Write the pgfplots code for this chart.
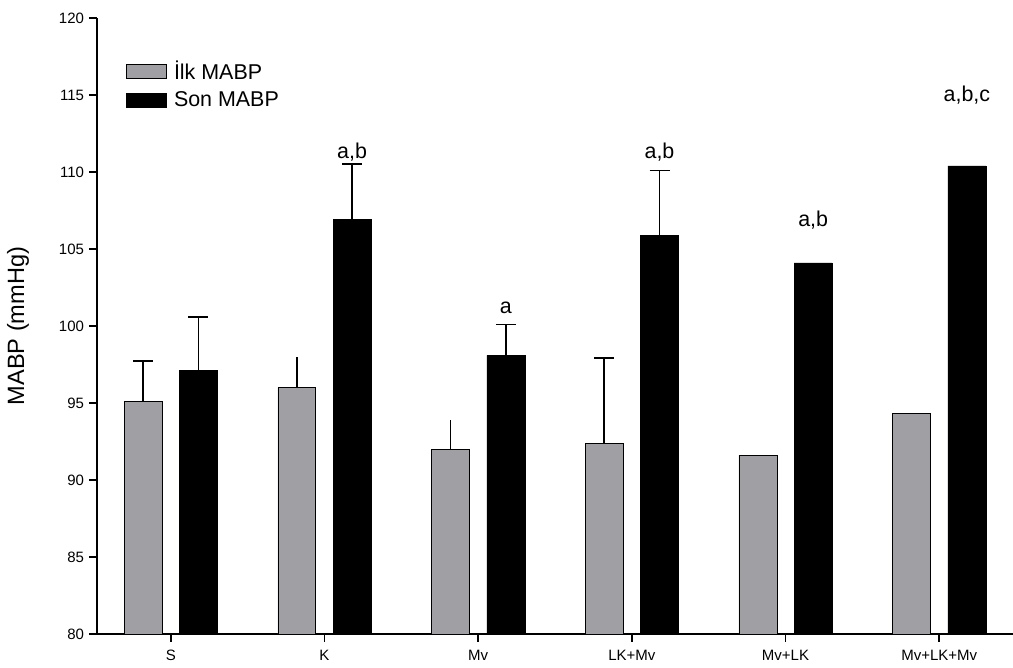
\documentclass[border=0pt]{standalone}
\usepackage{fontspec}
\setmainfont{Liberation Sans}
\usepackage{pgfplots}
\usepackage{pgfplotstable}
\pgfplotsset{compat=1.18}
\definecolor{barg}{RGB}{160,160,164}
\pgfplotsset{mylegend/.style={legend image code/.code={\draw[##1] (0pt,-5pt) rectangle (28pt,5pt);}}}

\pgfplotstableread{
x y
0 95.1
1 96.0
2 92.0
3 92.4
4 91.6
5 94.35
}\first
\pgfplotstableread{
x y
0 97.1
1 106.9
2 98.1
3 105.9
4 104.1
5 110.4
}\last

\begin{document}
\begin{tikzpicture}
\begin{axis}[
  scale only axis, width=641.2pt, height=431.2pt,
  xmin=-0.48, xmax=5.48, ymin=80, ymax=120,
  ytick={80,85,...,120},
  xtick={0,...,5}, xticklabels={S,K,Mv,LK+Mv,Mv+LK,Mv+LK+Mv},
  axis lines*=left,
  axis line style={-, line width=1.2pt},
  tick align=outside, major tick length=5.6pt,
  tick style={line width=1.2pt, black},
  /pgf/number format/assume math mode=true,
  ticklabel style={font=\fontsize{10.5}{12}\selectfont},
  xticklabel style={yshift=-2pt},
  ylabel={MABP (mmHg)},
  ylabel style={at={(axis description cs:-0.0862,0.5)}, anchor=center, font=\fontsize{16.5}{18}\selectfont},
  legend style={at={(axis description cs:0.027,0.94)}, anchor=north west, draw=none, fill=none,
    font=\fontsize{15}{17}\selectfont, row sep=3pt,
    nodes={inner xsep=5pt}},
  legend cell align=left,
  clip=false,
]
\addplot[ybar, bar width=0.247, bar shift=-0.18, fill=barg, draw=black, line width=0.4pt, mylegend]
  table[x=x,y=y]{\first};
\addlegendentry{İlk MABP}
\addplot[ybar, bar width=0.247, bar shift=0.18, fill=black, draw=black, line width=0.4pt, mylegend]
  table[x=x,y=y]{\last};
\addlegendentry{Son MABP}
% error bars with caps, at the bar centres
\addplot[forget plot, draw=none, mark=none,
  error bars/.cd, y dir=plus, y explicit,
  error bar style={line width=1.3pt, black},
  error mark options={rotate=90, mark size=7pt, line width=1.3pt, black}]
  coordinates {(-0.18,95.1) +- (0,2.6) (2.82,92.4) +- (0,5.5)};
% error bars without caps
\addplot[forget plot, draw=none, mark=none,
  error bars/.cd, y dir=plus, y explicit, error mark=none,
  error bar style={line width=1.3pt, black}]
  coordinates {(0.82,96.0) +- (0,2.0) (1.82,92.0) +- (0,1.9)};
\addplot[forget plot, draw=none, mark=none,
  error bars/.cd, y dir=plus, y explicit,
  error bar style={line width=1.3pt, black},
  error mark options={rotate=90, mark size=7pt, line width=1.3pt, black}]
  coordinates {(0.18,97.1) +- (0,3.5) (1.18,106.9) +- (0,3.6) (2.18,98.1) +- (0,2.0) (3.18,105.9) +- (0,4.2)};
\node[font=\fontsize{15}{17}\selectfont] at (axis cs:1.18,111.3) {a,b};
\node[font=\fontsize{15}{17}\selectfont] at (axis cs:2.18,101.2) {a};
\node[font=\fontsize{15}{17}\selectfont] at (axis cs:3.18,111.3) {a,b};
\node[font=\fontsize{15}{17}\selectfont] at (axis cs:4.18,106.9) {a,b};
\node[font=\fontsize{15}{17}\selectfont] at (axis cs:5.18,115.0) {a,b,c};
\end{axis}
\pgfresetboundingbox
\path (current axis.south west) ++(-67.9pt,-23.8pt) coordinate (bl);
\path (current axis.north east) ++(0pt,12.6pt) coordinate (tr);
\useasboundingbox (bl) rectangle (tr);
\end{tikzpicture}
\end{document}
